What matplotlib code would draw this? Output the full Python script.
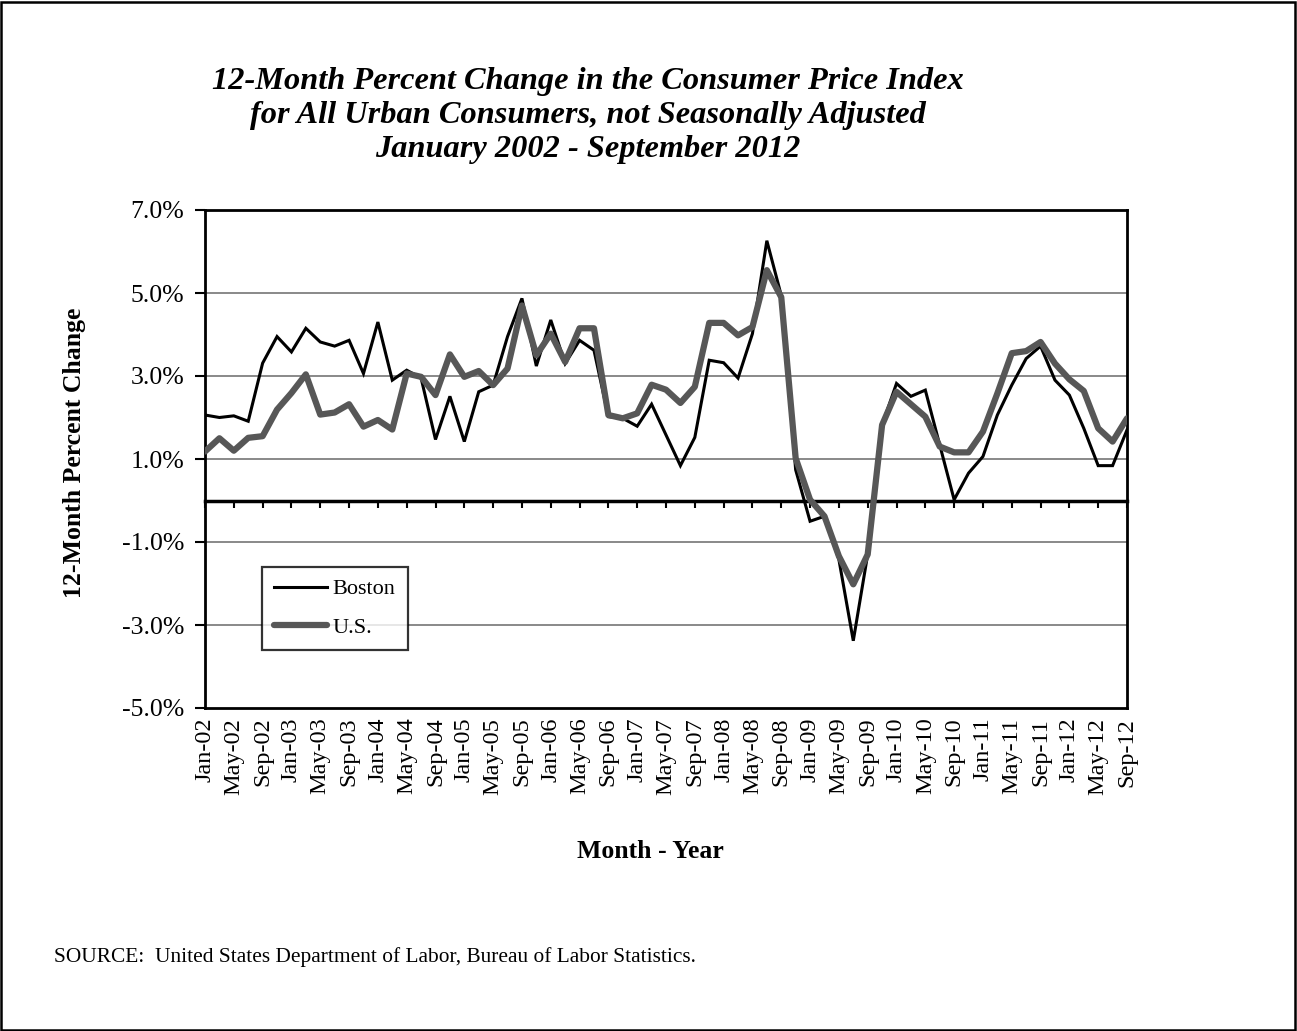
import matplotlib
matplotlib.use("Agg")
import matplotlib.pyplot as plt
from matplotlib.patches import Rectangle

# ---------------- data ----------------
# bimonthly observations, Jan-02 .. Sep-12 (months since Jan-02)
months = list(range(0, 129, 2))

boston = [2.06, 2.00, 2.04, 1.91, 3.31, 3.95, 3.58, 4.15, 3.82, 3.72, 3.86, 3.06,
          4.30, 2.90, 3.14, 2.95, 1.47, 2.51, 1.42, 2.62, 2.78, 3.95, 4.87, 3.24,
          4.35, 3.30, 3.86, 3.62, 2.02, 1.98, 1.79, 2.32, 1.58, 0.84, 1.52, 3.38,
          3.32, 2.95, 4.02, 6.26, 4.94, 0.74, -0.50, -0.38, -1.42, -3.38, -1.30, 1.82,
          2.82, 2.51, 2.66, 1.34, 0.02, 0.66, 1.06, 2.06, 2.78, 3.42, 3.72, 2.90,
          2.54, 1.74, 0.84, 0.84, 1.70]

us = [1.18, 1.50, 1.20, 1.51, 1.55, 2.19, 2.59, 3.04, 2.07, 2.12, 2.32, 1.78,
      1.94, 1.71, 3.06, 2.98, 2.54, 3.52, 2.98, 3.12, 2.78, 3.18, 4.70, 3.50,
      4.02, 3.34, 4.15, 4.15, 2.06, 1.98, 2.10, 2.79, 2.67, 2.35, 2.74, 4.28,
      4.28, 3.98, 4.18, 5.55, 4.90, 1.02, 0.02, -0.38, -1.34, -2.02, -1.30, 1.82,
      2.62, 2.32, 2.02, 1.30, 1.16, 1.16, 1.66, 2.58, 3.55, 3.60, 3.82, 3.30,
      2.92, 2.64, 1.74, 1.42, 1.98]

tick_months = list(range(0, 129, 4))
tick_labels = ["Jan-02", "May-02", "Sep-02", "Jan-03", "May-03", "Sep-03",
               "Jan-04", "May-04", "Sep-04", "Jan-05", "May-05", "Sep-05",
               "Jan-06", "May-06", "Sep-06", "Jan-07", "May-07", "Sep-07",
               "Jan-08", "May-08", "Sep-08", "Jan-09", "May-09", "Sep-09",
               "Jan-10", "May-10", "Sep-10", "Jan-11", "May-11", "Sep-11",
               "Jan-12", "May-12", "Sep-12"]
y_ticks = [-5, -3, -1, 1, 3, 5, 7]
y_labels = ["-5.0%", "-3.0%", "-1.0%", "1.0%", "3.0%", "5.0%", "7.0%"]

title_lines = ["12-Month Percent Change in the Consumer Price Index",
               "for All Urban Consumers, not Seasonally Adjusted",
               "January 2002 - September 2012"]

# ---------------- figure ----------------
plt.rcParams['font.family'] = ['Liberation Serif', 'DejaVu Serif']
W, H = 1297, 1031
fig = plt.figure(figsize=(W / 100, H / 100), dpi=100)

L, R, T, B = 205, 1127, 210, 708
ax = fig.add_axes([L / W, 1 - B / H, (R - L) / W, (B - T) / H])

GRID = "#808080"
USC = "#575757"

for v in [-3, -1, 1, 3, 5]:
    ax.axhline(v, color=GRID, lw=1.3, zorder=1)

ax.plot(months, boston, color="black", lw=2.2, label="Boston", zorder=3,
        solid_joinstyle="miter")
ax.plot(months, us, color=USC, lw=4.5, label="U.S.", zorder=4,
        solid_joinstyle="round", solid_capstyle="round")

ax.set_xlim(0, 128)
ax.set_ylim(-5, 7)

ax.set_yticks(y_ticks)
ax.set_yticklabels(y_labels, fontsize=18.5)
ax.tick_params(axis='y', direction='out', length=7, width=1.5, pad=8)

ax.set_xticks(tick_months)
ax.set_xticklabels(tick_labels, rotation=90, fontsize=17.5)
ax.tick_params(axis='x', length=0, pad=7)

for s in ax.spines.values():
    s.set_linewidth(2)
    s.set_color("black")

# zero axis line with ticks
sec = ax.secondary_xaxis(5 / 12)
sec.set_xticks(tick_months)
sec.set_xticklabels([])
sec.tick_params(axis='x', direction='out', length=5, width=1.5)
sec.spines['bottom'].set_linewidth(2.5)

leg = ax.legend(loc='upper left', bbox_to_anchor=(0.0615, 0.2837),
                borderaxespad=0, fontsize=16, frameon=True, fancybox=False,
                edgecolor="black", handlelength=2.4, handletextpad=0.25,
                labelspacing=0.8, borderpad=0.55)
leg.get_frame().set_linewidth(1.6)
leg.set_zorder(10)

# titles
for i, line in enumerate(title_lines):
    fig.text(588 / W, 1 - (82 + 34 * i) / H, line, ha='center', va='center',
             fontsize=23.3, fontweight='bold', fontstyle='italic')

fig.text(75 / W, 1 - 453 / H, "12-Month Percent Change", rotation=90,
         ha='center', va='center', fontsize=18.5, fontweight='bold')
fig.text(650 / W, 1 - 852 / H, "Month - Year", ha='center', va='center',
         fontsize=18.5, fontweight='bold')
fig.text(54 / W, 1 - 957 / H,
         "SOURCE:  United States Department of Labor, Bureau of Labor Statistics.",
         ha='left', va='center', fontsize=15.4)

fig.patches.append(Rectangle((1 / W, 1 / H), 1 - 3 / W, 1 - 3 / H,
                             transform=fig.transFigure, fill=False,
                             edgecolor="black", lw=1.8))

fig.savefig("out.png", dpi=100)
